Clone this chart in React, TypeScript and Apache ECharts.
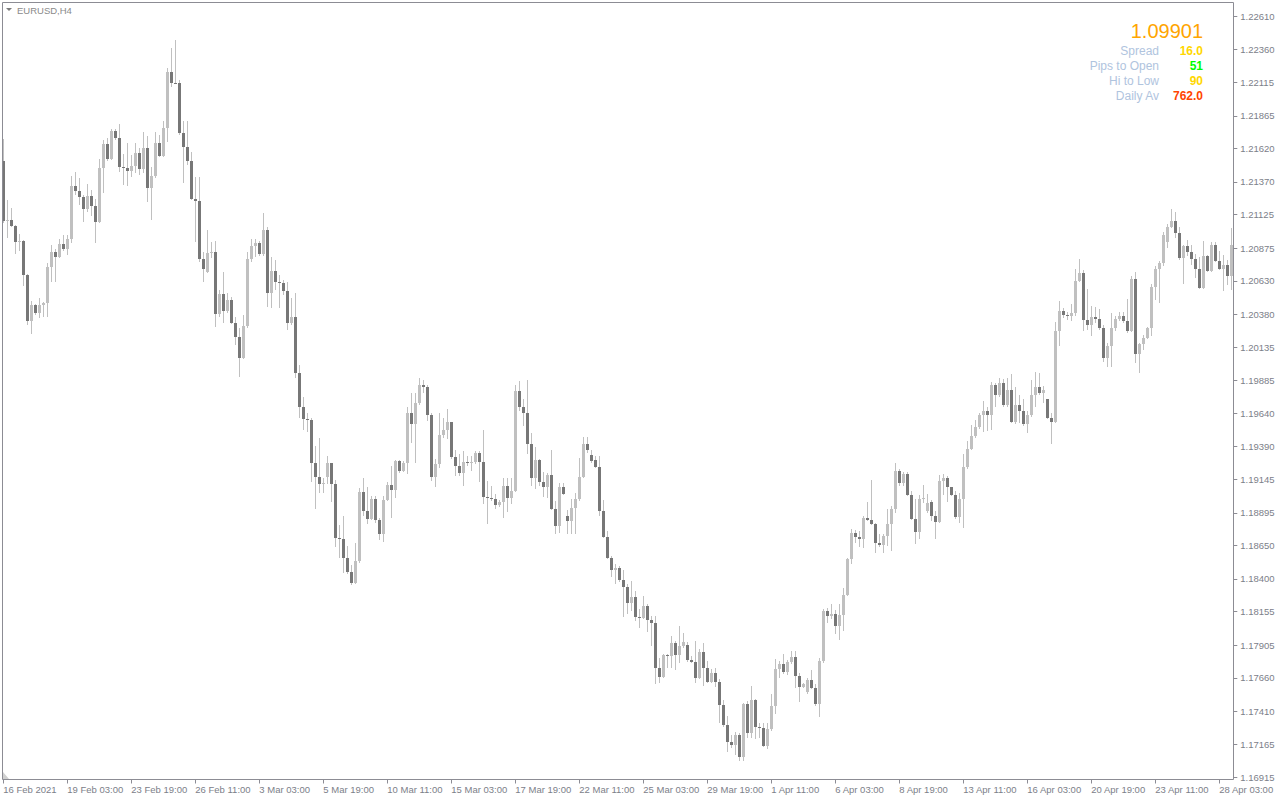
import React, { useEffect, useRef } from "react";
import * as echarts from "echarts";

// ---- DATA (EURUSD H4) ----
const tickLabels = [
  "16 Feb 2021", "19 Feb 03:00", "23 Feb 19:00", "26 Feb 11:00", "3 Mar 03:00",
  "5 Mar 19:00", "10 Mar 11:00", "15 Mar 03:00", "17 Mar 19:00", "22 Mar 11:00",
  "25 Mar 03:00", "29 Mar 19:00", "1 Apr 11:00", "6 Apr 03:00", "8 Apr 19:00",
  "13 Apr 11:00", "16 Apr 03:00", "20 Apr 19:00", "23 Apr 11:00", "28 Apr 03:00",
];

const priceTicks = [
  1.16915, 1.17165, 1.1741, 1.1766, 1.17905, 1.18155, 1.184, 1.1865, 1.18895,
  1.19145, 1.1939, 1.1964, 1.19885, 1.20135, 1.2038, 1.2063, 1.20875, 1.21125,
  1.2137, 1.2162, 1.21865, 1.22115, 1.2236, 1.2261,
];

const opens = [
  1.21528, 1.21078, 1.21085, 1.2104, 1.2092, 1.20928, 1.20673, 1.20328, 1.20448, 1.20388,
  1.20448, 1.20463, 1.20733, 1.20845, 1.20808, 1.20905, 1.20868, 1.20943, 1.2134, 1.21303,
  1.21258, 1.21168, 1.21265, 1.2119, 1.2107, 1.21475, 1.21655, 1.21543, 1.21753, 1.217,
  1.21483, 1.21478, 1.21453, 1.2149, 1.21588, 1.21468, 1.21625, 1.21325, 1.21415, 1.21663,
  1.21565, 1.21775, 1.22195, 1.22113, 1.2211, 1.21738, 1.21633, 1.21528, 1.21243, 1.21228,
  1.20793, 1.20695, 1.20838, 1.20845, 1.2038, 1.2053, 1.20403, 1.20485, 1.20313, 1.20208,
  1.2005, 1.2029, 1.20793, 1.2089, 1.20913, 1.2083, 1.2101, 1.20538, 1.20703, 1.2062,
  1.20613, 1.20553, 1.20313, 1.20358, 1.19938, 1.19683, 1.196, 1.19593, 1.1927, 1.19165,
  1.19113, 1.19165, 1.1927, 1.19113, 1.18708, 1.187, 1.18558, 1.18453, 1.1837, 1.18535,
  1.19053, 1.1891, 1.1885, 1.19, 1.18843, 1.18738, 1.18993, 1.19105, 1.19068, 1.19285,
  1.1921, 1.1927, 1.19638, 1.19563, 1.1972, 1.19848, 1.19833, 1.19623, 1.19165, 1.19263,
  1.1948, 1.19518, 1.19578, 1.19315, 1.19248, 1.19195, 1.19278, 1.1927, 1.19278, 1.19345,
  1.19278, 1.19015, 1.19008, 1.19, 1.18955, 1.18978, 1.19098, 1.19008, 1.1906, 1.19803,
  1.19683, 1.19638, 1.19413, 1.19158, 1.19293, 1.19128, 1.1909, 1.1918, 1.18925, 1.18798,
  1.1909, 1.18873, 1.18835, 1.18933, 1.19, 1.19165, 1.19413, 1.1933, 1.19293, 1.1924,
  1.1891, 1.18715, 1.18558, 1.18468, 1.18483, 1.18393, 1.1834, 1.1822, 1.18265, 1.18115,
  1.18108, 1.18198, 1.18093, 1.1807, 1.17733, 1.17665, 1.1783, 1.17825, 1.1792, 1.1783,
  1.17898, 1.17905, 1.17793, 1.17778, 1.17658, 1.17853, 1.17733, 1.17628, 1.17695, 1.17628,
  1.17455, 1.17305, 1.17178, 1.17155, 1.1723, 1.17065, 1.17463, 1.17245, 1.17493, 1.1729,
  1.17283, 1.17148, 1.17275, 1.17448, 1.17725, 1.17763, 1.17703, 1.17778, 1.17815, 1.17673,
  1.1759, 1.17553, 1.17643, 1.17583, 1.17463, 1.17785, 1.1816, 1.18123, 1.18138, 1.18048,
  1.1813, 1.1828, 1.1855, 1.18745, 1.18715, 1.187, 1.18858, 1.18843, 1.18813, 1.1867,
  1.18655, 1.18723, 1.18813, 1.18925, 1.1921, 1.1912, 1.19188, 1.1903, 1.1885, 1.18753,
  1.19, 1.1891, 1.18978, 1.18873, 1.18828, 1.19135, 1.19158, 1.1909, 1.1903, 1.18865,
  1.19, 1.1924, 1.19375, 1.19473, 1.1954, 1.19623, 1.1966, 1.1963, 1.19848, 1.1978,
  1.19863, 1.19698, 1.1981, 1.19578, 1.19705, 1.19653, 1.19563, 1.1963, 1.1978, 1.19833,
  1.19795, 1.19743, 1.19608, 1.19578, 1.20253, 1.20403, 1.20373, 1.20365, 1.20388, 1.20628,
  1.20688, 1.20335, 1.20298, 1.20358, 1.20343, 1.20275, 1.2005, 1.2014, 1.20275, 1.20343,
  1.20365, 1.20328, 1.20253, 1.20643, 1.2008, 1.20155, 1.202, 1.20275, 1.20583, 1.20718,
  1.20763, 1.2092, 1.21033, 1.21078, 1.20988, 1.208, 1.2089, 1.20845, 1.20793, 1.20718,
  1.20575, 1.20815, 1.20703, 1.20898, 1.20778, 1.20718, 1.20748, 1.20665,
];

const closes = [
  1.21078, 1.21085, 1.2104, 1.2092, 1.20928, 1.20673, 1.20328, 1.20448, 1.20388, 1.20448,
  1.20463, 1.20733, 1.20845, 1.20808, 1.20905, 1.20868, 1.20943, 1.2134, 1.21303, 1.21258,
  1.21168, 1.21265, 1.2119, 1.2107, 1.21475, 1.21655, 1.21543, 1.21753, 1.217, 1.21483,
  1.21478, 1.21453, 1.2149, 1.21588, 1.21468, 1.21625, 1.21325, 1.21415, 1.21663, 1.21565,
  1.21775, 1.22195, 1.22113, 1.2211, 1.21738, 1.21633, 1.21528, 1.21243, 1.21228, 1.20793,
  1.20718, 1.20838, 1.20845, 1.2038, 1.2053, 1.20403, 1.20485, 1.20313, 1.20208, 1.2005,
  1.2029, 1.20793, 1.2089, 1.20913, 1.2083, 1.2101, 1.20538, 1.20703, 1.2062, 1.20613,
  1.20553, 1.20313, 1.20358, 1.19938, 1.19683, 1.196, 1.19593, 1.1927, 1.19165, 1.19113,
  1.1912, 1.1927, 1.19113, 1.18708, 1.187, 1.18558, 1.18453, 1.1837, 1.18535, 1.19053,
  1.1891, 1.1885, 1.19, 1.18843, 1.18738, 1.18993, 1.19105, 1.19068, 1.19285, 1.1921,
  1.1927, 1.19638, 1.19563, 1.1972, 1.19848, 1.19833, 1.19623, 1.19165, 1.19263, 1.1948,
  1.19518, 1.19578, 1.19315, 1.19248, 1.19195, 1.19278, 1.1927, 1.19278, 1.19345, 1.19278,
  1.19015, 1.19008, 1.19, 1.18955, 1.18978, 1.19098, 1.19008, 1.1906, 1.19803, 1.19683,
  1.19638, 1.19413, 1.19158, 1.19293, 1.19128, 1.1909, 1.1918, 1.18925, 1.18798, 1.1909,
  1.19038, 1.18835, 1.18933, 1.19, 1.19165, 1.19413, 1.19368, 1.19285, 1.1924, 1.1891,
  1.18715, 1.18558, 1.18468, 1.18483, 1.18393, 1.1834, 1.1822, 1.18265, 1.18115, 1.18108,
  1.18198, 1.18093, 1.1807, 1.17733, 1.17665, 1.1783, 1.17825, 1.1792, 1.1783, 1.17898,
  1.17928, 1.17793, 1.17778, 1.17658, 1.17853, 1.17733, 1.17628, 1.17695, 1.17628, 1.17455,
  1.17305, 1.17178, 1.17155, 1.1723, 1.17065, 1.17463, 1.17245, 1.17493, 1.1729, 1.17283,
  1.17148, 1.17275, 1.17448, 1.17725, 1.17763, 1.17703, 1.17778, 1.17815, 1.17673, 1.1759,
  1.17613, 1.17643, 1.17583, 1.17463, 1.17785, 1.1816, 1.18123, 1.18138, 1.18048, 1.1813,
  1.1828, 1.1855, 1.18745, 1.18715, 1.187, 1.18858, 1.18843, 1.18813, 1.1867, 1.18655,
  1.18723, 1.18813, 1.18925, 1.1921, 1.1912, 1.19188, 1.1903, 1.1885, 1.18753, 1.19,
  1.19008, 1.1897, 1.18873, 1.18828, 1.19135, 1.19158, 1.1909, 1.1903, 1.18865, 1.19,
  1.1924, 1.19375, 1.19473, 1.1954, 1.19623, 1.1966, 1.1963, 1.19848, 1.1978, 1.19863,
  1.19698, 1.1981, 1.19578, 1.19705, 1.19653, 1.19563, 1.1963, 1.1978, 1.19833, 1.19795,
  1.1981, 1.19608, 1.19578, 1.20253, 1.20403, 1.20373, 1.20365, 1.20388, 1.20628, 1.20688,
  1.20335, 1.20298, 1.20358, 1.20343, 1.20275, 1.2005, 1.2014, 1.20275, 1.20343, 1.20365,
  1.20328, 1.20253, 1.20643, 1.2008, 1.20155, 1.202, 1.20275, 1.20583, 1.20718, 1.20763,
  1.20973, 1.21033, 1.21078, 1.20988, 1.208, 1.2089, 1.20845, 1.20793, 1.20718, 1.20575,
  1.20815, 1.20703, 1.20898, 1.20778, 1.20718, 1.20748, 1.20665, 1.20898,
];

const highs = [
  1.21693, 1.21235, 1.21175, 1.21048, 1.2098, 1.20935, 1.2068, 1.20478, 1.20455, 1.205,
  1.2047, 1.20763, 1.20898, 1.20868, 1.20943, 1.20973, 1.20973, 1.21415, 1.21445, 1.214,
  1.21273, 1.21355, 1.2131, 1.21243, 1.21543, 1.21685, 1.217, 1.21768, 1.21768, 1.21805,
  1.2158, 1.21663, 1.21573, 1.21663, 1.21625, 1.21745, 1.21715, 1.21483, 1.21745, 1.21723,
  1.21828, 1.22225, 1.22375, 1.22435, 1.22135, 1.21828, 1.21828, 1.21595, 1.21408, 1.21408,
  1.20845, 1.2101, 1.2092, 1.20928, 1.2056, 1.20695, 1.20538, 1.20508, 1.20358, 1.20275,
  1.20373, 1.20845, 1.20943, 1.20943, 1.20928, 1.21138, 1.21033, 1.20808, 1.20785, 1.20673,
  1.20635, 1.2062, 1.205, 1.20538, 1.19998, 1.19765, 1.19645, 1.19608, 1.19398, 1.19458,
  1.19158, 1.19323, 1.1927, 1.19143, 1.18805, 1.18873, 1.18648, 1.18505, 1.1867, 1.19083,
  1.19158, 1.1909, 1.19023, 1.19023, 1.18858, 1.19023, 1.19128, 1.19248, 1.19293, 1.19293,
  1.19285, 1.19683, 1.19788, 1.19788, 1.199, 1.19885, 1.19848, 1.19645, 1.193, 1.19645,
  1.19608, 1.19675, 1.19578, 1.19368, 1.19338, 1.1936, 1.19323, 1.19323, 1.1936, 1.1936,
  1.19518, 1.19135, 1.19098, 1.19038, 1.18993, 1.19158, 1.19158, 1.19158, 1.19848, 1.19878,
  1.1975, 1.19885, 1.19495, 1.1939, 1.193, 1.19203, 1.19195, 1.19368, 1.18985, 1.1912,
  1.1912, 1.18918, 1.19, 1.19045, 1.19308, 1.19465, 1.19465, 1.19368, 1.19323, 1.19323,
  1.18993, 1.1876, 1.18573, 1.18513, 1.18498, 1.18468, 1.18363, 1.18385, 1.1831, 1.18175,
  1.18273, 1.18213, 1.18123, 1.18123, 1.17808, 1.17838, 1.17838, 1.17973, 1.17935, 1.18048,
  1.17995, 1.17928, 1.17823, 1.17935, 1.17875, 1.1792, 1.17785, 1.17725, 1.17733, 1.1765,
  1.17493, 1.17373, 1.1723, 1.17253, 1.17245, 1.1747, 1.17485, 1.17598, 1.175, 1.1732,
  1.1732, 1.1732, 1.17538, 1.178, 1.17785, 1.17838, 1.17793, 1.1786, 1.1786, 1.17695,
  1.1762, 1.17658, 1.17718, 1.17613, 1.17808, 1.18175, 1.18183, 1.18213, 1.18168, 1.18213,
  1.18333, 1.18558, 1.18775, 1.18768, 1.1876, 1.18873, 1.18978, 1.19143, 1.1882, 1.18738,
  1.18738, 1.18925, 1.18948, 1.1927, 1.19225, 1.19203, 1.19203, 1.1906, 1.19, 1.1903,
  1.19105, 1.19038, 1.18993, 1.1891, 1.1918, 1.19188, 1.19173, 1.1909, 1.1906, 1.19045,
  1.19338, 1.19435, 1.19555, 1.19593, 1.19638, 1.19735, 1.1969, 1.1987, 1.19863, 1.199,
  1.19893, 1.199, 1.1993, 1.19833, 1.19773, 1.1975, 1.1966, 1.19885, 1.19945, 1.19938,
  1.1984, 1.1975, 1.19645, 1.2032, 1.20478, 1.20425, 1.20395, 1.20455, 1.20718, 1.20793,
  1.2071, 1.20568, 1.2044, 1.20433, 1.20418, 1.20298, 1.20163, 1.20388, 1.20365, 1.20395,
  1.20395, 1.20493, 1.20665, 1.20695, 1.20163, 1.20223, 1.20283, 1.20605, 1.2074, 1.20778,
  1.20995, 1.21055, 1.21168, 1.21145, 1.21033, 1.20898, 1.20935, 1.20898, 1.2083, 1.20808,
  1.20928, 1.20823, 1.2092, 1.2092, 1.20853, 1.20823, 1.20785, 1.21025,
];

const lows = [
  1.21063, 1.2095, 1.21033, 1.2083, 1.20853, 1.2059, 1.20298, 1.2023, 1.20373, 1.2035,
  1.20358, 1.20358, 1.2062, 1.2062, 1.208, 1.20853, 1.20823, 1.20913, 1.21273, 1.21198,
  1.2107, 1.21145, 1.21115, 1.20913, 1.2107, 1.21288, 1.21528, 1.21535, 1.21685, 1.21445,
  1.21348, 1.2134, 1.21408, 1.21438, 1.21423, 1.21438, 1.2122, 1.21085, 1.214, 1.21558,
  1.21558, 1.2167, 1.22083, 1.22105, 1.21723, 1.21363, 1.21498, 1.21235, 1.2092, 1.2077,
  1.2062, 1.20688, 1.208, 1.20283, 1.20358, 1.20313, 1.20388, 1.20305, 1.20148, 1.19908,
  1.2005, 1.20275, 1.2077, 1.20808, 1.20815, 1.20815, 1.20433, 1.20425, 1.2056, 1.20425,
  1.20523, 1.2026, 1.20298, 1.199, 1.19608, 1.19518, 1.19503, 1.19128, 1.18925, 1.19045,
  1.19045, 1.19113, 1.18978, 1.1864, 1.18558, 1.18445, 1.18438, 1.18355, 1.1836, 1.1852,
  1.18873, 1.18813, 1.1884, 1.1882, 1.18693, 1.18678, 1.18985, 1.18858, 1.19008, 1.19195,
  1.192, 1.19188, 1.1942, 1.1927, 1.19698, 1.19788, 1.19585, 1.19135, 1.1909, 1.19233,
  1.19458, 1.1945, 1.193, 1.19173, 1.19173, 1.19098, 1.19248, 1.1921, 1.19263, 1.19128,
  1.18963, 1.18813, 1.18985, 1.18925, 1.1894, 1.18858, 1.18903, 1.18963, 1.1905, 1.1966,
  1.19548, 1.19338, 1.19098, 1.19075, 1.19098, 1.19015, 1.19008, 1.1892, 1.18738, 1.18745,
  1.1903, 1.18738, 1.18738, 1.18738, 1.18985, 1.19158, 1.19345, 1.1927, 1.19233, 1.18873,
  1.18708, 1.1855, 1.18415, 1.18363, 1.18378, 1.18115, 1.18138, 1.1816, 1.18085, 1.18033,
  1.181, 1.18003, 1.17898, 1.17613, 1.1762, 1.17658, 1.17733, 1.17733, 1.17718, 1.1777,
  1.17883, 1.17778, 1.1777, 1.1762, 1.1765, 1.17598, 1.1762, 1.1762, 1.1759, 1.1732,
  1.1729, 1.17103, 1.17133, 1.1708, 1.17035, 1.17035, 1.17208, 1.17208, 1.172, 1.17208,
  1.1714, 1.17125, 1.1726, 1.17388, 1.17658, 1.17688, 1.1768, 1.17763, 1.17583, 1.17478,
  1.17583, 1.17538, 1.17575, 1.17448, 1.17365, 1.1777, 1.1807, 1.181, 1.17988, 1.17943,
  1.1801, 1.18275, 1.18513, 1.1867, 1.1864, 1.18633, 1.18835, 1.18805, 1.18595, 1.1864,
  1.18595, 1.18648, 1.1861, 1.18895, 1.19098, 1.19098, 1.19023, 1.18843, 1.18663, 1.187,
  1.1897, 1.18895, 1.18835, 1.187, 1.1882, 1.1903, 1.18978, 1.19025, 1.1885, 1.1882,
  1.18783, 1.19225, 1.19368, 1.19458, 1.19525, 1.19503, 1.1951, 1.19518, 1.1969, 1.19763,
  1.1969, 1.1969, 1.1957, 1.19563, 1.1957, 1.19548, 1.19495, 1.19615, 1.1969, 1.1978,
  1.1972, 1.196, 1.19413, 1.1957, 1.2014, 1.2035, 1.20335, 1.20328, 1.20365, 1.2062,
  1.20253, 1.2026, 1.20215, 1.20313, 1.2026, 1.2002, 1.19983, 1.19983, 1.20253, 1.20328,
  1.20313, 1.20238, 1.20245, 1.20013, 1.19938, 1.2011, 1.20193, 1.20215, 1.20485, 1.20463,
  1.2074, 1.20875, 1.21025, 1.2095, 1.20785, 1.20605, 1.20815, 1.20748, 1.2065, 1.20568,
  1.20568, 1.20695, 1.20695, 1.2077, 1.2071, 1.20553, 1.20598, 1.2056,
];

const infoLabels = ["Spread", "Pips to Open", "Hi to Low", "Daily Av"];
const infoValues = ["16.0", "51", "90", "762.0"];
const infoColors = ["#FFD700", "#00FF00", "#FFD700", "#FF4500"];
const bigPrice = "1.09901";

const BULL = "#c0c0c0";
const BEAR = "#777777";
const WICK = "#c0c0c0";
const AXIS_TEXT = "#7c8089";
const FRAME = "#8c8c94";

export default function App() {
  const ref = useRef<HTMLDivElement>(null);

  useEffect(() => {
    if (!ref.current) return;
    const chart = echarts.init(ref.current, null, { renderer: "svg" });

    const categories = opens.map((_, i) => String(i));
    const data = opens.map((o, i) => [i, o, closes[i], lows[i], highs[i]]);
    const showTick = (idx: number) => idx % 16 === 0;

    const graphics: any[] = [
      {
        type: "rect",
        shape: { x: 2.5, y: 2.5, width: 1231, height: 777 },
        style: { fill: "none", stroke: FRAME, lineWidth: 1 },
        silent: true,
        z: 10,
      },
      {
        type: "polygon",
        shape: { points: [[6, 8], [12, 8], [9, 11]] },
        style: { fill: "#7a7a7a" },
        z: 10,
      },
      {
        type: "text",
        x: 17,
        y: 10,
        style: {
          text: "EURUSD,H4",
          fill: "#8a8a8a",
          font: "9.5px 'Liberation Sans', Arial, sans-serif",
          verticalAlign: "middle",
          align: "left",
        },
        z: 10,
      },
      {
        type: "polygon",
        shape: { points: [[3, 772], [3, 779], [9, 779]] },
        style: { fill: "#d0d0d0" },
        z: 10,
      },
      {
        type: "text",
        x: 1203,
        y: 31,
        style: {
          text: bigPrice,
          fill: "#FFA500",
          font: "20px 'Liberation Sans', Arial, sans-serif",
          align: "right",
          verticalAlign: "middle",
        },
        z: 10,
      },
    ];
    infoLabels.forEach((lab, k) => {
      graphics.push({
        type: "text",
        x: 1159,
        y: 51 + k * 15,
        style: {
          text: lab,
          fill: "#B0C4DE",
          font: "12px 'Liberation Sans', Arial, sans-serif",
          align: "right",
          verticalAlign: "middle",
        },
        z: 10,
      });
      graphics.push({
        type: "text",
        x: 1203,
        y: 51 + k * 15,
        style: {
          text: infoValues[k],
          fill: infoColors[k],
          font: "bold 12px 'Liberation Sans', Arial, sans-serif",
          align: "right",
          verticalAlign: "middle",
        },
        z: 10,
      });
    });

    chart.setOption({
      animation: false,
      backgroundColor: "#ffffff",
      grid: { left: 1.3, top: 2.5, width: 1232, height: 777, containLabel: false },
      xAxis: {
        type: "category",
        data: categories,
        boundaryGap: true,
        axisLine: { show: false },
        axisTick: {
          show: true,
          alignWithLabel: true,
          interval: (idx: number) => showTick(idx),
          length: 4,
          lineStyle: { color: FRAME },
        },
        axisLabel: {
          interval: (idx: number) => showTick(idx),
          formatter: (_v: string, idx: number) => tickLabels[idx / 16] ?? "",
          align: "left",
          margin: 5,
          color: AXIS_TEXT,
          fontFamily: "'Liberation Sans', Arial, sans-serif",
          fontSize: 9.5,
        },
        splitLine: { show: false },
      },
      yAxis: {
        type: "value",
        position: "right",
        min: 1.169,
        max: 1.227125,
        scale: true,
        axisLine: { show: false },
        axisTick: {
          show: true,
          length: 4,
          customValues: priceTicks,
          lineStyle: { color: FRAME },
        },
        axisLabel: {
          customValues: priceTicks,
          formatter: (v: number) => v.toFixed(5),
          margin: 7,
          color: AXIS_TEXT,
          fontFamily: "'Liberation Sans', Arial, sans-serif",
          fontSize: 9.5,
          showMinLabel: true,
          showMaxLabel: true,
        },
        splitLine: { show: false },
      },
      series: [
        {
          type: "custom",
          data,
          encode: { x: 0, y: [1, 2, 3, 4] },
          clip: true,
          renderItem: (_params: any, api: any) => {
            const i = api.value(0);
            const o = api.value(1);
            const c = api.value(2);
            const l = api.value(3);
            const h = api.value(4);
            const po = api.coord([i, o]);
            const yc = api.coord([i, c])[1];
            const yl = api.coord([i, l])[1];
            const yh = api.coord([i, h])[1];
            const x = Math.round(po[0] - 0.5) + 0.5;
            const top = Math.round(Math.min(po[1], yc));
            const bot = Math.round(Math.max(po[1], yc));
            const bull = c >= o;
            return {
              type: "group",
              children: [
                {
                  type: "line",
                  shape: {
                    x1: x,
                    y1: Math.round(Math.min(yh, top)),
                    x2: x,
                    y2: Math.round(Math.max(yl, bot + 1)),
                  },
                  style: { stroke: WICK, lineWidth: 1 },
                },
                {
                  type: "rect",
                  shape: {
                    x: x - 1.5,
                    y: top,
                    width: 3,
                    height: Math.max(1, bot - top),
                  },
                  style: { fill: bull ? BULL : BEAR },
                },
              ],
            };
          },
        },
      ],
      graphic: graphics,
    });

    return () => chart.dispose();
  }, []);

  return (
    <div
      ref={ref}
      style={{ position: "fixed", left: 0, top: 0, width: 1280, height: 800, background: "#fff" }}
    />
  );
}
